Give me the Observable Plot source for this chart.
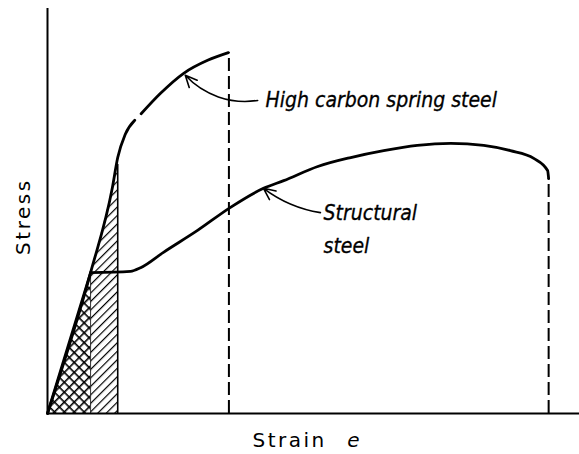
<!DOCTYPE html>
<html><head><meta charset="utf-8">
<script src="https://cdn.jsdelivr.net/npm/d3@7"></script>
<script src="https://cdn.jsdelivr.net/npm/@observablehq/plot@0.6"></script>
<style>body{margin:0;background:#fff}</style>
</head><body><div id="chart"></div>
<script>
// High carbon spring steel curve (strain, stress in arbitrary units); NaN marks the small break in the drawn line
const highCarbonStrain = [0, 8.1, 12.2, 13.2, 14.6, 16.4, 16.9, 17.6, 21.2, 25.6, 30.1, 34.0];
const highCarbonStress = [0, 34.8, 55.8, 63.2, 68.9, 72.4, NaN, 74.0, 79.0, 84.0, 87.2, 89.1];
const highCarbonFracture = 34.1;

// Structural steel: elastic line, then yield plateau and hardening curve
const elasticStrain = [0, 8.1];
const elasticStress = [0, 34.8];
const structuralStrain = [8.1, 15.6, 17.5, 21.8, 28.2, 34.4, 40.6, 44.4, 50.8, 57.0, 63.2, 69.5, 75.8, 82.0, 87.0, 91.4, 94.0, 94.2];
const structuralStress = [34.8, 35.1, 36.0, 39.8, 45.2, 50.9, 55.6, 57.5, 61.0, 63.2, 64.9, 66.2, 66.7, 66.2, 64.9, 63.0, 60.0, 58.0];
const structuralFracture = 94.2;

// Shaded areas under the elastic line
const crossStrain = [0, 8.1];
const crossStress = [0, 34.8];
const diagStrain = [8.1, 8.1, 12.2, 13.2, 13.2];
const diagStress = [0, 34.8, 55.8, 61.5, 0];

// Annotations
const labels = ["High carbon spring steel", "Structural", "steel"];
const labelStrain = [41.0, 51.9, 51.9];
const labelStress = [77.3, 49.4, 41.2];
const arrowFrom = [[39.5, 77.3], [51.3, 49.6]];
const arrowTo = [[25.9, 83.5], [40.6, 55.6]];

const hc = highCarbonStrain.map((x, i) => ({x, y: highCarbonStress[i]}));
const el = elasticStrain.map((x, i) => ({x, y: elasticStress[i]}));
const st = structuralStrain.map((x, i) => ({x, y: structuralStress[i]}));
const cross = crossStrain.map((x, i) => ({x, y: crossStress[i]}));
const diag = diagStrain.map((x, i) => ({x, y: diagStress[i]}));
const lab = labels.map((t, i) => ({t, x: labelStrain[i], y: labelStress[i]}));
const arr = arrowFrom.map((f, i) => ({x1: f[0], y1: f[1], x2: arrowTo[i][0], y2: arrowTo[i][1]}));

const condensed = "'DejaVu Sans Condensed', 'DejaVu Sans', sans-serif";
const sans = "'DejaVu Sans', sans-serif";

const chart = Plot.plot({
  width: 579, height: 454,
  marginLeft: 47, marginRight: 0, marginTop: 8, marginBottom: 41,
  x: {domain: [0, 100], axis: null},
  y: {domain: [0, 100], axis: null},
  marks: [
    Plot.areaY(cross, {x: "x", y: "y", fill: "url(#crosshatch)"}),
    Plot.line(diag, {x: "x", y: "y", fill: "url(#diaghatch)", stroke: "none"}),
    Plot.ruleX([8.1], {y1: 0, y2: 34.8, stroke: "black", strokeWidth: 0.8}),
    Plot.ruleX([13.2], {y1: 0, y2: 61.5, stroke: "black", strokeWidth: 1.6}),
    Plot.ruleX([highCarbonFracture], {y1: 0, y2: 89.1, stroke: "black", strokeWidth: 2, strokeDasharray: "13,5"}),
    Plot.ruleX([structuralFracture], {y1: 0, y2: 58, stroke: "black", strokeWidth: 2, strokeDasharray: "13,5"}),
    Plot.line(hc, {x: "x", y: "y", stroke: "black", strokeWidth: 2.8, curve: "monotone-x"}),
    Plot.line(el, {x: "x", y: "y", stroke: "black", strokeWidth: 2.8}),
    Plot.line(st, {x: "x", y: "y", stroke: "black", strokeWidth: 2.8, curve: "monotone-x"}),
    Plot.ruleX([0], {stroke: "black", strokeWidth: 2}),
    Plot.ruleY([0], {stroke: "black", strokeWidth: 2}),
    Plot.arrow(arr.slice(0, 1), {x1: "x1", y1: "y1", x2: "x2", y2: "y2", bend: 28, stroke: "black", strokeWidth: 1.6, headLength: 12, headAngle: 50}),
    Plot.arrow(arr.slice(1), {x1: "x1", y1: "y1", x2: "x2", y2: "y2", bend: 14, stroke: "black", strokeWidth: 1.6, headLength: 12, headAngle: 50}),
    Plot.text(lab, {x: "x", y: "y", text: "t", textAnchor: "start", fontSize: 21, fontStyle: "italic", fontFamily: condensed, fill: "black", stroke: "black", strokeWidth: 0.3}),
    Plot.text(["Stress"], {x: -4.5, y: 48.6, rotate: -90, fontSize: 20, fontFamily: sans, fill: "black"}),
    Plot.text(["Strain"], {x: 45.5, y: -6.8, fontSize: 20, fontFamily: sans, fill: "black"}),
    Plot.text(["e"], {x: 57.5, y: -6.8, fontSize: 20, fontStyle: "italic", fontFamily: sans, fill: "black"})
  ]
});

const svg = d3.select(chart);
const defs = svg.insert("defs", ":first-child");
const p1 = defs.append("pattern").attr("id", "diaghatch").attr("patternUnits", "userSpaceOnUse")
  .attr("width", 6).attr("height", 6).attr("patternTransform", "rotate(45)");
p1.append("line").attr("x1", 0).attr("y1", 0).attr("x2", 0).attr("y2", 6).attr("stroke", "black").attr("stroke-width", 2.4);
const p2 = defs.append("pattern").attr("id", "crosshatch").attr("patternUnits", "userSpaceOnUse")
  .attr("width", 7).attr("height", 7).attr("patternTransform", "rotate(45)");
p2.append("line").attr("x1", 0).attr("y1", 0).attr("x2", 0).attr("y2", 7).attr("stroke", "black").attr("stroke-width", 3.2);
p2.append("line").attr("x1", 0).attr("y1", 0).attr("x2", 7).attr("y2", 0).attr("stroke", "black").attr("stroke-width", 3.2);
svg.selectAll("text").filter(function(){ return this.textContent === "Stress" || this.textContent === "Strain"; })
  .attr("letter-spacing", "2.5px");
svg.selectAll("text").filter(function(){ return labels.includes(this.textContent); })
  .attr("font-stretch", "condensed");
document.getElementById("chart").append(chart);
</script>
</body></html>
